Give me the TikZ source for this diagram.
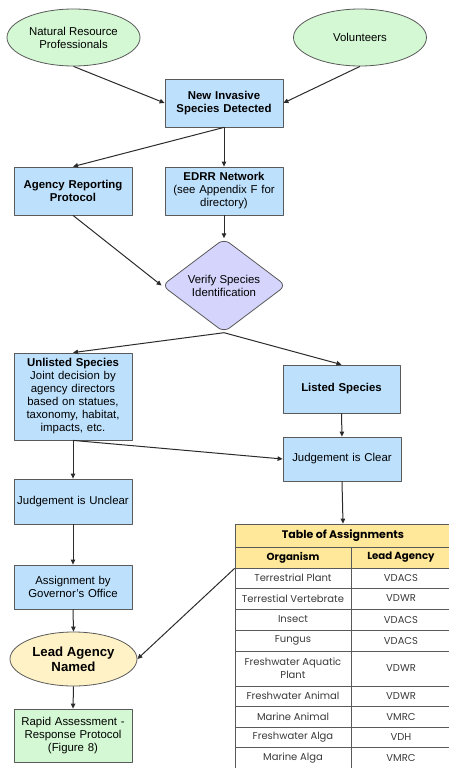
\documentclass[tikz,border=0pt]{standalone}
\usepackage{fontspec}
\setmainfont{Liberation Sans}
\newfontfamily\tabfont{Poppins}
\usetikzlibrary{shapes.geometric,arrows.meta}

\definecolor{bordo}{HTML}{5A5A5A}
\definecolor{linea}{HTML}{2B2B2B}
\definecolor{azzurro}{HTML}{BDE0FC}
\definecolor{verdino}{HTML}{D3F8D3}
\definecolor{lilla}{HTML}{D4D4FC}
\definecolor{crema}{HTML}{FFF2C6}
\definecolor{giallo}{HTML}{FFE89A}
\definecolor{testotab}{HTML}{3A3A3A}

\begin{document}
\begin{tikzpicture}[x=1pt, y=-1pt, line join=round,
    font=\fontsize{11.4}{13}\selectfont,
    box/.style={draw=bordo, fill=azzurro, line width=0.8pt, minimum width=118pt,
        text width=112pt, align=center, inner sep=0pt},
    ovale/.style={ellipse, draw=bordo, fill=verdino, line width=0.8pt,
        minimum width=133pt, minimum height=57pt, inner sep=0pt, align=center},
    cella/.style={draw=bordo, line width=0.7pt, inner sep=0pt, align=center,
        font=\tabfont\fontsize{10}{13}\selectfont, text=testotab},
    testata/.style={cella, fill=giallo, text=black,
        font=\tabfont\bfseries\fontsize{10.2}{12}\selectfont},
    freccia/.style={draw=linea, line width=1pt, -{Triangle[length=5pt,width=4.5pt]}}]

    \useasboundingbox (0,0) rectangle (449,768);

    % Segnalatori (ellissi in alto)
    \node[ovale] (nrp) at (73.5,37.5) {Natural Resource\\Professionals};
    \node[ovale] (vol) at (360,37.5) {Volunteers};

    % Rilevamento e canali di segnalazione
    \node[box, minimum height=48pt] (nuova) at (224,103)
        {\textbf{New Invasive}\\\textbf{Species Detected}};
    \node[box, minimum height=48pt] (arp) at (73,191)
        {\textbf{Agency Reporting}\\\textbf{Protocol}\\[2pt]};
    \node[box, minimum height=48pt] (edrr) at (224,191)
        {\textbf{EDRR Network}\\(see Appendix F for\\directory)\\[-2pt]};

    % Verifica (rombo)
    \node[diamond, draw=bordo, fill=lilla, line width=0.8pt, rounded corners=7pt,
        minimum width=124pt, minimum height=93pt, inner sep=0pt, align=center]
        (verifica) at (224,285.5) {Verify Species\\Identification};

    % Ramo sinistro
    \node[box, minimum height=87pt] (nonlistata) at (73,396.5)
        {\textbf{Unlisted Species}\\Joint decision by\\agency directors\\based on statues,\\taxonomy, habitat,\\impacts, etc.\\[2pt]};
    \node[box, minimum height=45pt] (incerto) at (73,501.5) {Judgement is Unclear};
    \node[box, minimum height=44pt] (governo) at (73,587)
        {Assignment by\\Governor's Office};
    \node[ellipse, draw=bordo, fill=crema, line width=0.8pt, minimum width=127pt,
        minimum height=54pt, inner sep=0pt, align=center,
        font=\bfseries\fontsize{13.2}{15}\selectfont] (capofila) at (73.5,659)
        {Lead Agency\\Named};
    \node[box, fill=verdino, minimum height=53pt] (rapida) at (73,735.5)
        {Rapid Assessment -\\Response Protocol\\(Figure 8)};

    % Ramo destro
    \node[box, minimum width=117pt, minimum height=48pt] (listata) at (341.5,389)
        {\textbf{Listed Species}};
    \node[box, minimum height=44pt] (chiaro) at (342,459) {Judgement is Clear};

    % Tabella delle assegnazioni
    \node[testata, minimum width=216pt, minimum height=23pt,
        font=\tabfont\bfseries\fontsize{11}{13}\selectfont]
        (titolo) at (343,535.5) {Table of Assignments};
    \node[testata, minimum width=116pt, minimum height=21pt] (organismo) at (293,557.5) {Organism};
    \node[testata, minimum width=100pt, minimum height=21pt] (agenzia) at (401,557.5) {Lead Agency};
    \foreach \org/\ag/\yc/\h [count=\i] in {
        Terrestrial Plant/VDACS/578/20,
        Terrestial Vertebrate/VDWR/598.5/21,
        Insect/VDACS/619.5/21,
        Fungus/VDACS/640.5/21,
        {Freshwater Aquatic\\Plant}/VDWR/668.5/35,
        Freshwater Animal/VDWR/696/20,
        Marine Animal/VMRC/716.5/21,
        Freshwater Alga/VDH/737/20,
        Marine Alga/VMRC/758/22} {
        \node[cella, minimum width=116pt, minimum height=\h pt] (org\i) at (293,\yc) {\org};
        \node[cella, minimum width=100pt, minimum height=\h pt] (ag\i) at (401,\yc) {\ag};
    }

    % Frecce
    \draw[freccia] (nrp.south) -- (nuova.west);
    \draw[freccia] (vol.south) -- (nuova.east);
    \draw[freccia] (nuova.south) -- (arp.north);
    \draw[freccia] (nuova.south) -- (edrr.north);
    \draw[freccia] (arp.south) -- (verifica.west);
    \draw[freccia] (edrr.south) -- (verifica.north);
    \draw[freccia] (verifica.south) -- (nonlistata.north);
    \draw[freccia] (verifica.south) -- (listata.north);
    \draw[freccia] (listata.south) -- (chiaro.north);
    \draw[freccia] (nonlistata.south) -- (incerto.north);
    \draw[freccia] (nonlistata.south) -- (chiaro.west);
    \draw[freccia] (incerto.south) -- (governo.north);
    \draw[freccia] (governo.south) -- (capofila.north);
    \draw[freccia] (capofila.south) -- (rapida.north);
    \draw[freccia] (chiaro.south) -- (titolo.north);
    \draw[freccia] (organismo.south west) -- (capofila.east);

\end{tikzpicture}
\end{document}
